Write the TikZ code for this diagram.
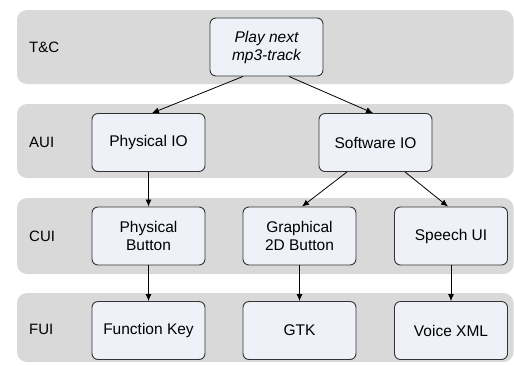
\documentclass[tikz,border=0pt]{standalone}
\usepackage{fontspec}
\setmainfont{Liberation Sans}
\usetikzlibrary{arrows.meta}
\definecolor{bandgray}{HTML}{D9D9D9}
\definecolor{boxfill}{HTML}{EEF1F7}
\definecolor{boxline}{HTML}{333333}
\begin{document}
\begin{tikzpicture}[x=1pt,y=-1pt,
  band/.style={fill=bandgray,draw=none,rounded corners=10pt},
  layerlabel/.style={anchor=west,inner sep=0pt,font=\fontsize{15}{18}\selectfont},
  box/.style={draw=boxline,fill=boxfill,rounded corners=6pt,line width=0.9pt,
    minimum width=113pt,minimum height=58pt,align=center,inner sep=2pt,
    font=\fontsize{15.5}{18}\selectfont},
  conn/.style={draw=black,line width=0.8pt,-{Latex[length=7pt,width=6pt]}}]
\useasboundingbox (0,0) rectangle (514,365);
% bands
\fill[band] (17,10) rectangle (513.5,84);
\fill[band] (17,104) rectangle (513.5,178);
\fill[band] (17,198) rectangle (513.5,274);
\fill[band] (17,293) rectangle (513.5,362);
% layer labels
\node[layerlabel] (ltc) at (29,47) {T\&C};
\node[layerlabel] (laui) at (29,142.5) {AUI};
\node[layerlabel] (lcui) at (29,236) {CUI};
\node[layerlabel] (lfui) at (29,329) {FUI};
% nodes
\node[box] (play) at (266.5,47) {\itshape Play next\\\itshape mp3-track};
\node[box] (pio) at (148.5,142.5) {Physical IO};
\node[box] (sio) at (375.5,142.5) {Software IO};
\node[box] (pb) at (148.5,236) {Physical\\Button};
\node[box] (gb) at (299.5,236) {Graphical\\2D Button};
\node[box] (sui) at (451,236) {Speech UI};
\node[box] (fk) at (148.5,330.5) {Function Key};
\node[box] (gtk) at (299.5,330.5) {GTK};
\node[box] (vx) at (451,330.5) {Voice XML};
% connectors
\draw[conn] ([xshift=-23.5pt]play.south) -- ([xshift=3.5pt]pio.north);
\draw[conn] ([xshift=22.5pt]play.south) -- ([xshift=-2.5pt]sio.north);
\draw[conn] (pio.south) -- (pb.north);
\draw[conn] ([xshift=-28.5pt]sio.south) -- ([xshift=2.5pt]gb.north);
\draw[conn] ([xshift=29.5pt]sio.south) -- ([xshift=-3pt]sui.north);
\draw[conn] (pb.south) -- (fk.north);
\draw[conn] (gb.south) -- (gtk.north);
\draw[conn] (sui.south) -- (vx.north);
\end{tikzpicture}
\end{document}
